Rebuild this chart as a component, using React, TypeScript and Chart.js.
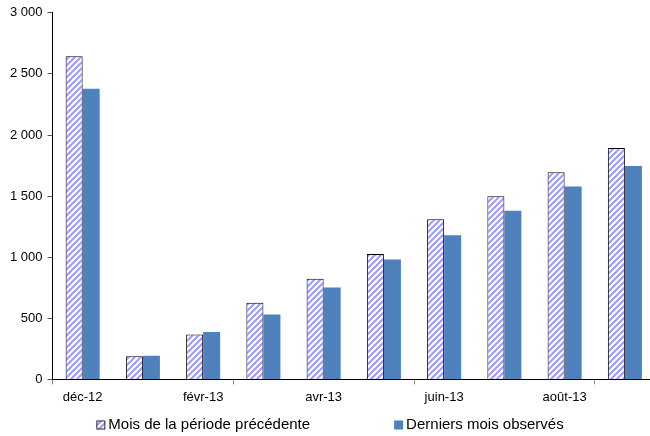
import React, { useEffect, useRef } from "react";
import { Chart, registerables } from "chart.js";

Chart.register(...registerables);

const categories = ["déc-12", "janv-13", "févr-13", "mars-13", "avr-13", "mai-13", "juin-13", "juil-13", "août-13", "sept-13"];
const previousPeriod = [2645, 190, 368, 627, 823, 1027, 1310, 1498, 1695, 1894];
const lastObserved = [2378, 193, 387, 531, 752, 981, 1180, 1381, 1578, 1747];
const seriesNames = ["Mois de la période précédente", "Derniers mois observés"];
const yTicks = [0, 500, 1000, 1500, 2000, 2500, 3000];

const FONT = "'Liberation Sans', Arial, sans-serif";
const BLUE = "#4f81bd";

function makeHatch(): CanvasPattern | string {
  const size = 6;
  const c = document.createElement("canvas");
  c.width = size;
  c.height = size;
  const g = c.getContext("2d");
  if (!g) return "#ccccff";
  g.fillStyle = "#ffffff";
  g.fillRect(0, 0, size, size);
  g.strokeStyle = "#9a9aff";
  g.lineWidth = 2;
  g.beginPath();
  g.moveTo(-1, size + 1);
  g.lineTo(size + 1, -1);
  g.moveTo(-1, 1);
  g.lineTo(1, -1);
  g.moveTo(size - 1, size + 1);
  g.lineTo(size + 1, size - 1);
  g.stroke();
  const p = g.createPattern(c, "repeat");
  return p || "#ccccff";
}

const legendPlugin = {
  id: "customLegend",
  afterDraw(chart: any) {
    const ctx = chart.ctx as CanvasRenderingContext2D;
    const ds = chart.data.datasets;
    ctx.save();
    ctx.font = `15px ${FONT}`;
    ctx.textBaseline = "middle";
    const box = 9;
    const gapText = 3;
    const gapItems = 84;
    const widths = ds.map((d: any) => box + gapText + ctx.measureText(d.label).width);
    const total = widths.reduce((a: number, b: number) => a + b, 0) + gapItems * (ds.length - 1);
    let x = 330 - total / 2;
    const y = 425;
    ds.forEach((d: any, i: number) => {
      ctx.fillStyle = d.backgroundColor;
      ctx.fillRect(x, y - box / 2, box, box);
      if (d.borderWidth) {
        ctx.strokeStyle = "#333";
        ctx.lineWidth = 1;
        ctx.strokeRect(x + 0.5, y - box / 2 + 0.5, box - 1, box - 1);
      }
      ctx.fillStyle = "#000";
      ctx.fillText(d.label, x + box + gapText, y);
      x += widths[i] + gapItems;
    });
    ctx.restore();
  },
};

export default function App() {
  const ref = useRef<HTMLCanvasElement | null>(null);
  useEffect(() => {
    if (!ref.current) return;
    const hatch = makeHatch();
    const chart = new Chart(ref.current, {
      type: "bar",
      data: {
        labels: categories,
        datasets: [
          {
            label: seriesNames[0],
            data: previousPeriod,
            backgroundColor: hatch as any,
            borderColor: "#000",
            borderWidth: 1,
            categoryPercentage: 0.565,
            barPercentage: 1,
          },
          {
            label: seriesNames[1],
            data: lastObserved,
            backgroundColor: BLUE,
            borderWidth: 0,
            categoryPercentage: 0.565,
            barPercentage: 1,
          },
        ],
      },
      options: {
        animation: false,
        responsive: false,
        maintainAspectRatio: false,
        layout: { padding: { top: 12, left: 5, right: 5, bottom: 26 } },
        plugins: { legend: { display: false }, tooltip: { enabled: false } },
        scales: {
          x: {
            offset: true,
            border: { color: "#000", width: 1 },
            grid: {
              offset: true,
              drawOnChartArea: false,
              drawTicks: true,
              tickLength: 5,
              color: (c: any) => (c.index % 3 === 0 ? "#888" : "rgba(0,0,0,0)"),
            },
            ticks: {
              autoSkip: false,
              maxRotation: 0,
              padding: 5,
              color: "#000",
              font: { family: FONT, size: 13 },
              callback: (_v: any, i: number) => (i % 2 === 0 ? categories[i] : ""),
            },
          },
          y: {
            min: 0,
            max: 3000,
            afterBuildTicks: (axis: any) => {
              axis.ticks = yTicks.map((v) => ({ value: v }));
            },
            border: { color: "#000", width: 1 },
            grid: { drawOnChartArea: false, drawTicks: true, tickLength: 5, color: "#555" },
            ticks: {
              padding: 5,
              color: "#000",
              font: { family: FONT, size: 13 },
              callback: (v: any) => String(v).replace(/\B(?=(\d{3})+(?!\d))/g, " "),
            },
          },
        },
      },
      plugins: [legendPlugin],
    });
    return () => chart.destroy();
  }, []);
  return (
    <div style={{ position: "fixed", left: 0, top: 0, width: 650, height: 436, overflow: "hidden", background: "#fff" }}>
      <canvas ref={ref} width={660} height={436} style={{ width: 660, height: 436, display: "block" }} />
    </div>
  );
}
